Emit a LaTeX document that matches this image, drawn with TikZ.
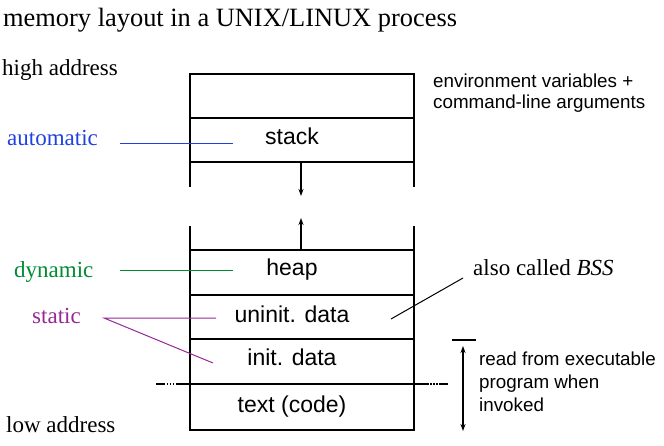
\documentclass[tikz,border=0pt]{standalone}
\usepackage{fontspec}
\setmainfont{Liberation Serif}
\setsansfont{Liberation Sans}
\usetikzlibrary{arrows.meta}
\definecolor{autoblue}{RGB}{32,64,224}
\definecolor{dyngreen}{RGB}{0,140,50}
\definecolor{statpurple}{RGB}{150,40,150}
\tikzset{
  seg/.style={font=\fontsize{23}{27}\selectfont\sffamily, inner sep=0pt, anchor=base},
  tag/.style={font=\fontsize{23}{27}\selectfont, inner sep=0pt, anchor=base west},
  note/.style={font=\fontsize{18.8}{21}\selectfont\sffamily, inner sep=0pt, align=left, anchor=base west},
  wall/.style={line width=2pt},
  lead/.style={line width=1pt},
  growarrow/.style={-{Stealth[length=7pt,width=5pt]}, line width=1.2pt},
  cutline/.style={line width=1.6pt, dash pattern=on 9pt off 1.5pt on 1.5pt off 1.5pt on 1.5pt off 1.5pt on 1.5pt off 1.5pt on 20pt}
}
\begin{document}
\begin{tikzpicture}[x=1pt,y=-1pt]
   \useasboundingbox (0,0) rectangle (664,445);
   \node[tag, font=\fontsize{26.4}{30}\selectfont] (title) at (3,26) {memory layout in a UNIX/LINUX process};
   \node[tag] (high) at (2,75) {high address};
   \node[tag] (low) at (6,432) {low address};
   \node[tag, text=autoblue] (auto) at (7,145) {automatic};
   \node[tag, text=dyngreen] (dyn) at (14,277) {dynamic};
   \node[tag, text=statpurple] (stat) at (32,323) {static};
   \node[tag] (also) at (473,275) {also called \textit{BSS}};
   % base of a multi-line note sits on its last line
   \node[note] (env) at (433,108) {environment variables +\\command-line arguments};
   \node[note, font=\fontsize{18.8}{23}\selectfont\sffamily] (exe) at (479,411) {read from executable\\program when\\invoked};
   % walls of the process image
   \foreach \x in {190,414} {
     \draw[wall] (\x,74) -- (\x,187);
     \draw[wall] (\x,226) -- (\x,430);
   }
   \foreach \y/\w in {74/2pt,118/2.8pt,162/2pt,250/2pt,295/2.8pt,339/2.8pt,384/2.8pt,430/2pt}
     \draw[line width=\w] (189,\y) -- (415,\y);
   \foreach \n/\l/\y in
     { stack/stack/144,
       heap/heap/275,
       bss/{uninit. data}/322,
       data/{init. data}/365,
       text/{text (code)}/412
     }
     \node[seg] (\n) at (292,\y) {\l};
   % growth of stack and heap
   \coordinate (stacktop) at (301,162);
   \coordinate (stackend) at (301,196);
   \coordinate (heaptop) at (301,250);
   \coordinate (heapend) at (301,218);
   \draw[growarrow] (stacktop) -- (stackend);
   \draw[growarrow] (heaptop) -- (heapend);
   % leaders
   \coordinate (autoA) at (120,143);
   \coordinate (autoB) at (233,143);
   \coordinate (dynA) at (120,270);
   \coordinate (dynB) at (233,270);
   \coordinate (statA) at (104,318);
   \coordinate (statB) at (216,318);
   \coordinate (statC) at (213,363);
   \coordinate (bssA) at (463,278);
   \coordinate (bssB) at (391,319);
   \draw[lead, autoblue] (autoA) -- (autoB);
   \draw[lead, dyngreen] (dynA) -- (dynB);
   \draw[lead, statpurple] (statB) -- (statA) -- (statC);
   \draw[lead] (bssA) -- (bssB);
   % loaded part
   \coordinate (cutL) at (156,384);
   \coordinate (cutR) at (448,384);
   \draw[cutline] (cutL) -- (190,384);
   \draw[cutline] (cutR) -- (414,384);
   \coordinate (barL) at (452,340);
   \coordinate (barR) at (476,340);
   \coordinate (loadtop) at (463,346);
   \coordinate (loadend) at (463,431);
   \draw[line width=2pt] (barL) -- (barR);
   \draw[{Stealth[length=7pt,width=5pt]}-{Stealth[length=7pt,width=5pt]}, line width=1.4pt] (loadtop) -- (loadend);
\end{tikzpicture}
\end{document}
